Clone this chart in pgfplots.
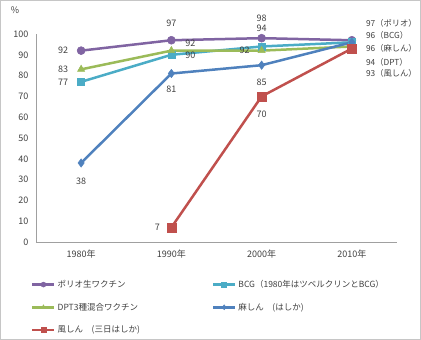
\documentclass[border=0pt]{standalone}
\usepackage{fontspec}
\setmainfont{Noto Sans CJK JP}
\usepackage{pgfplots}
\pgfplotsset{compat=1.18}

\definecolor{cPolio}{RGB}{128,100,162}
\definecolor{cBCG}{RGB}{75,172,198}
\definecolor{cDPT}{RGB}{155,187,89}
\definecolor{cMeas}{RGB}{79,129,189}
\definecolor{cRub}{RGB}{192,80,77}
\definecolor{axgray}{RGB}{160,160,160}
\definecolor{txt}{RGB}{64,64,64}

\pgfplotsset{
  sPolio/.style={color=cPolio, mark=*, mark size=4pt, mark options={solid, line width=0.5pt}},
  sBCG/.style={color=cBCG, mark=square*, mark size=3.6pt, mark options={solid, line width=0.5pt}},
  sDPT/.style={color=cDPT, mark=triangle*, mark size=4.2pt, mark options={solid, line width=0.5pt}},
  sMeas/.style={color=cMeas, mark=diamond*, mark size=4.2pt, mark options={solid, line width=0.5pt}},
  sRub/.style={color=cRub, mark=square*, mark size=4.6pt, mark options={solid, line width=0.5pt}},
}
\tikzset{lab/.style={font=\fontsize{9}{11}\selectfont, text=txt, inner sep=0pt},
         rlab/.style={font=\fontsize{8.3}{10}\selectfont, text=txt, inner sep=0pt}}
% label helper: #1=x, #2=y, #3=dx, #4=dy, #5=anchor, #6=text
\newcommand\lab[6]{\node[lab, anchor=#5, xshift=#3pt, yshift=#4pt] at (axis cs:#1,#2) {#6};}
\newcommand\rlab[4]{\node[rlab, anchor=west, xshift=14pt, yshift=#3pt] at (axis cs:#1,#2) {#4};}

\begin{document}
\begin{tikzpicture}
\begin{axis}[
  scale only axis, width=361pt, height=208pt,
  xmin=-0.5, xmax=3.5, ymin=0, ymax=100,
  xtick={0,1,2,3}, xticklabels={1980年,1990年,2000年,2010年},
  ytick={0,10,...,100},
  axis x line=bottom, axis y line=left,
  axis line style={draw=axgray, line width=0.8pt, -},
  major tick length=0pt,
  tick label style={font=\fontsize{9}{11}\selectfont, text=txt},
  xticklabel style={yshift=-4pt},
  yticklabel style={xshift=-4pt},
  /pgf/number format/assume math mode=true,
  clip=false,
  every axis plot/.append style={line width=2.5pt},
  legend columns=2,
  legend style={at={(0,0)}, anchor=north west, xshift=-8pt, yshift=-34pt,
     draw=none, fill=none, font=\fontsize{8.5}{10}\selectfont, text=txt,
     row sep=10pt,
     /tikz/every even column/.append style={column sep=70pt}},
  legend cell align=left,
  legend image code/.code={\draw[line width=2.5pt, mark repeat=2, mark phase=2, mark size=2.5pt]
     plot coordinates {(0pt,0pt) (11pt,0pt) (22pt,0pt)};},
]
\addplot[sPolio] coordinates {(0,92) (1,97) (2,98) (3,97)};
\addlegendentry{ポリオ生ワクチン}
\addplot[sBCG] coordinates {(0,77) (1,90) (2,94) (3,96)};
\addlegendentry{BCG（1980年はツベルクリンとBCG）}
\addplot[sDPT] coordinates {(0,83) (1,92) (2,92) (3,94)};
\addlegendentry{DPT3種混合ワクチン}
\addplot[sMeas] coordinates {(0,38) (1,81) (2,85) (3,96)};
\addlegendentry{麻しん　(はしか)}
\addplot[sRub] coordinates {(1,7) (2,70) (3,93)};
\addlegendentry{風しん　(三日はしか)}
% data labels
\lab{0}{92}{-18}{0}{center}{92}
\lab{1}{97}{0}{17}{center}{97}
\lab{2}{98}{0}{20}{center}{98}
\lab{0}{77}{-18}{0}{center}{77}
\lab{1}{90}{19}{0}{center}{90}
\lab{2}{94}{0}{18}{center}{94}
\lab{0}{83}{-18}{0}{center}{83}
\lab{1}{92}{19}{7}{center}{92}
\lab{2}{92}{-17}{0}{center}{92}
\lab{0}{38}{0}{-18}{center}{38}
\lab{1}{81}{0}{-16}{center}{81}
\lab{2}{85}{0}{-17}{center}{85}
\lab{1}{7}{-14}{0}{center}{7}
\lab{2}{70}{0}{-18}{center}{70}
\rlab{3}{97}{17}{97（ポリオ）}
\rlab{3}{96}{7}{96（BCG）}
\rlab{3}{96}{-6}{96（麻しん）}
\rlab{3}{94}{-16}{94（DPT）}
\rlab{3}{93}{-25}{93（風しん）}
\node[lab] at (rel axis cs:0,1) [xshift=-21pt, yshift=24pt] {\%};
\end{axis}
\pgfresetboundingbox
\draw[gray!45, line width=0.6pt] (-35.7pt,-97.7pt) rectangle (384.7pt,241.7pt);
\end{tikzpicture}
\end{document}
